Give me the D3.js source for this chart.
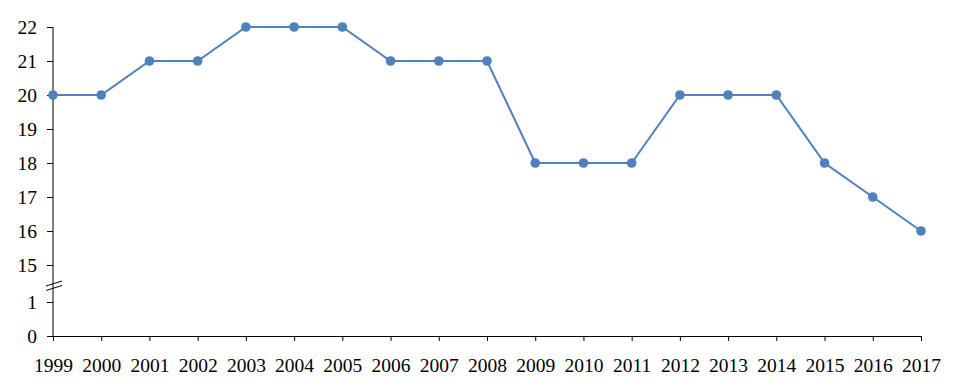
<html>
<script src='https://d3js.org/d3.v7.min.js'></script>
<style>
body {margin:0; background:#fff;}
.axis text {font-family: "Liberation Serif", serif; font-size:19.5px; fill:#000;}
.axis line {stroke:#000;}
</style>
<body>
<svg width=953 height=391></svg>
<script>
const years = ["1999","2000","2001","2002","2003","2004","2005","2006","2007","2008","2009","2010","2011","2012","2013","2014","2015","2016","2017"];
const values = [20,20,21,21,22,22,22,21,21,21,18,18,18,20,20,20,18,17,16];
const upperTicks = [15,16,17,18,19,20,21,22];
const lowerTicks = [0,1];

const svg = d3.select("svg");
const left = 53, right = 921;

const x = d3.scalePoint().domain(years).range([left, right]);
// broken y axis: upper part 15-22, lower part 0-1
const yTop = d3.scaleLinear().domain([15, 22]).range([265, 27]);
const yBot = d3.scaleLinear().domain([0, 1]).range([336, 302]);
const y = v => v >= 15 ? yTop(v) : yBot(v);

// y axis line
svg.append("line").attr("x1", left).attr("x2", left).attr("y1", yTop(22)).attr("y2", yBot(0))
  .attr("stroke", "#000").attr("stroke-width", 1);

svg.append("g").attr("class","axis").attr("transform","translate(" + left + ",0)")
  .call(d3.axisLeft(yTop).tickValues(upperTicks).tickFormat(d3.format("d")).tickSize(6).tickPadding(10).tickSizeOuter(0))
  .call(g => g.select(".domain").remove());
svg.append("g").attr("class","axis").attr("transform","translate(" + left + ",0)")
  .call(d3.axisLeft(yBot).tickValues(lowerTicks).tickFormat(d3.format("d")).tickSize(6).tickPadding(10).tickSizeOuter(0))
  .call(g => g.select(".domain").remove());

// break marks
[0, 4.5].forEach(function(off) {
  svg.append("line")
    .attr("x1", left - 7).attr("y1", 286 + off)
    .attr("x2", left + 9).attr("y2", 281 + off)
    .attr("stroke", "#000").attr("stroke-width", 1);
});

// x axis
svg.append("g").attr("class","axis").attr("transform","translate(0," + yBot(0) + ")")
  .call(d3.axisBottom(x).tickSize(5).tickPadding(17).tickSizeOuter(0))
  .call(g => g.select(".domain").attr("stroke","#000"));

// line
const line = d3.line().x((d, i) => x(years[i])).y(d => y(d));
svg.append("path").datum(values).attr("d", line)
  .style("fill","none").style("stroke","#4F81BD").style("stroke-width", 2);

svg.append("g").selectAll("circle").data(values).enter().append("circle")
  .attr("cx", (d, i) => x(years[i]))
  .attr("cy", d => y(d))
  .attr("r", 4.8)
  .attr("fill", "#4F81BD");
</script>
</body>
</html>
